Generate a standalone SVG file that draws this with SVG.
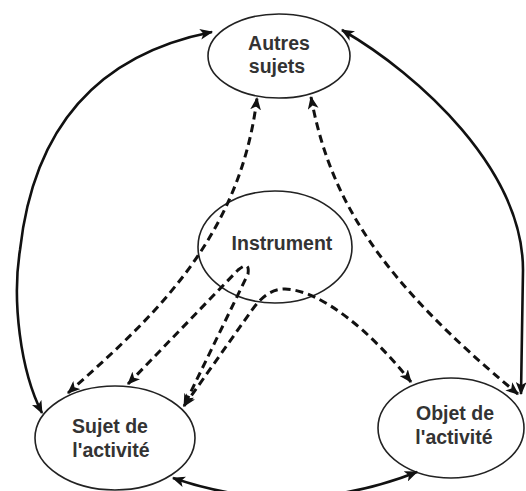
<svg xmlns="http://www.w3.org/2000/svg" width="526" height="491" viewBox="0 0 526 491">
<style>
.node ellipse{fill:#fff;stroke:#222;stroke-width:1.6}
.node text{font-family:"Liberation Sans",Arial,sans-serif;font-weight:bold;font-size:19.5px;fill:#333;text-anchor:middle}
.solid{fill:none;stroke:#111;stroke-width:2.6}
.dash{fill:none;stroke:#111;stroke-width:3;stroke-dasharray:8 5}
</style>
<defs>
<marker id="ah" viewBox="0 0 12 10" refX="11" refY="5" markerWidth="13" markerHeight="11" markerUnits="userSpaceOnUse" orient="auto-start-reverse">
<path d="M0,0 L12,5 L0,10 L3,5 z" fill="#111"/>
</marker>
</defs>
<g id="n-autres" class="node">
<ellipse cx="279" cy="56" rx="71" ry="42"/>
<text x="279" y="50">Autres</text>
<text x="277" y="73">sujets</text>
</g>
<g id="n-instrument" class="node">
<ellipse cx="275" cy="247" rx="77" ry="56"/>
<text x="282" y="250">Instrument</text>
</g>
<g id="n-sujet" class="node">
<ellipse cx="115" cy="438" rx="80" ry="52"/>
<text x="110" y="433">Sujet de</text>
<text x="111" y="457">l'activité</text>
</g>
<g id="n-objet" class="node">
<ellipse cx="451" cy="428" rx="73" ry="50"/>
<text x="455" y="420">Objet de</text>
<text x="454" y="444">l'activité</text>
</g>
<g id="connectors">
<path class="solid" d="M42 413 C20 370, 12 300, 20 250 C30 160, 70 60, 212 32" marker-start="url(#ah)" marker-end="url(#ah)"/>
<path class="solid" d="M342 30 C420 75, 523 170, 523 270 L521 394" marker-start="url(#ah)" marker-end="url(#ah)"/>
<path class="solid" d="M173 478 Q295 520 417 472" marker-start="url(#ah)" marker-end="url(#ah)"/>
<path class="dash" d="M68 393 C150 320, 240 240, 257 98" marker-start="url(#ah)" marker-end="url(#ah)"/>
<path class="dash" d="M311 97 C330 200, 380 280, 518 394" marker-start="url(#ah)" marker-end="url(#ah)"/>
<path class="dash" d="M128 384 L238 270 Q250 260 248 274 L184 406" marker-start="url(#ah)" marker-end="url(#ah)"/>
<path class="dash" d="M184 406 L252 310 C262 296, 272 289, 285 289 C320 290, 370 330, 411 382" marker-start="url(#ah)" marker-end="url(#ah)"/>
</g>
</svg>
